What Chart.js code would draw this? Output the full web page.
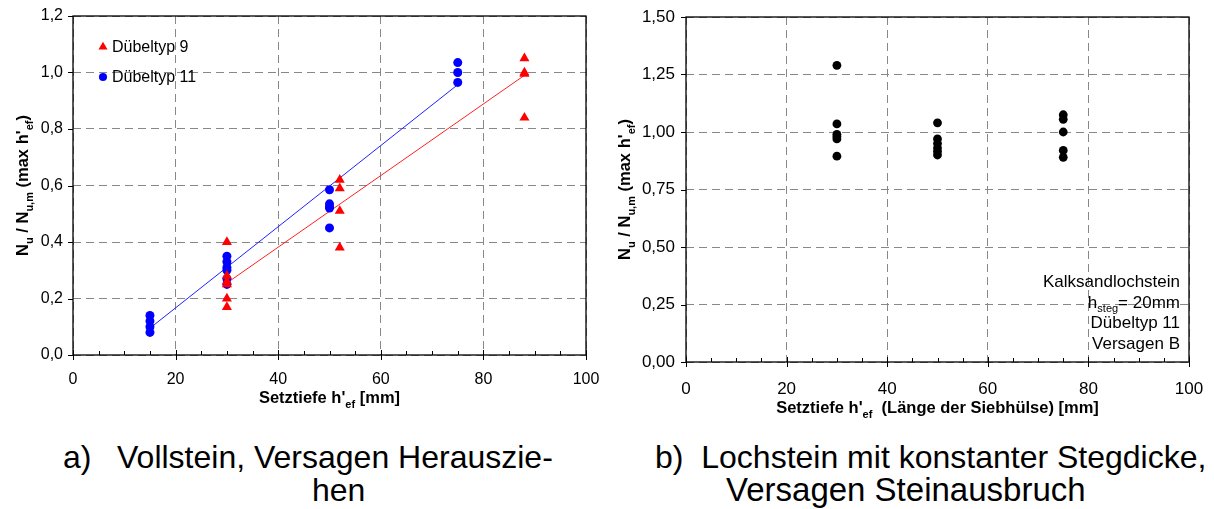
<!DOCTYPE html>
<html><head><meta charset="utf-8">
<script src="https://cdn.jsdelivr.net/npm/chart.js@4/dist/chart.umd.min.js"></script>
<style>
html,body{margin:0;padding:0;background:#fff;}
#wrap{position:relative;width:1214px;height:509px;overflow:hidden;font-family:"Liberation Sans",Arial,sans-serif;}
#c1{position:absolute;left:0;top:0;width:600px;height:420px;}
#c2{position:absolute;left:600px;top:0;width:614px;height:430px;}
.cap{position:absolute;font-size:32px;line-height:32px;color:#000;white-space:pre;}
</style></head><body>
<div id="wrap">
<canvas id="c1" width="600" height="420"></canvas>
<canvas id="c2" width="614" height="430"></canvas>
<div class="cap" style="left:63px;top:441px">a)</div>
<div class="cap" style="left:117px;top:441px">Vollstein, Versagen Herauszie-</div>
<div class="cap" style="left:312px;top:474px">hen</div>
<div class="cap" style="left:655px;top:441px">b)  Lochstein mit konstanter Stegdicke,</div>
<div class="cap" style="left:726px;top:474px;font-size:33px">Versagen Steinausbruch</div>
</div>
<script>
// ---------- data ----------
const xTicks = [0, 20, 40, 60, 80, 100];
const xTickLabels = ['0', '20', '40', '60', '80', '100'];

// chart a)
const yTicksA = [0, 0.2, 0.4, 0.6, 0.8, 1.0, 1.2];
const yTickLabelsA = ['0,0', '0,2', '0,4', '0,6', '0,8', '1,0', '1,2'];
const typ9X = [30, 30, 30, 30, 30, 30, 52, 52, 52, 52, 88, 88, 88, 88];
const typ9Y = [0.40, 0.28, 0.26, 0.25, 0.20, 0.17, 0.62, 0.59, 0.51, 0.38, 1.05, 1.00, 0.995, 0.84];
const typ11X = [15, 15, 15, 15, 30, 30, 30, 30, 30, 30, 50, 50, 50, 50, 50, 75, 75, 75];
const typ11Y = [0.14, 0.12, 0.10, 0.08, 0.35, 0.33, 0.31, 0.30, 0.27, 0.25, 0.585, 0.535, 0.525, 0.52, 0.45, 1.035, 1.00, 0.965];
const fit9X = [30, 88];
const fit9Y = [0.255, 0.99];
const fit11X = [15, 75];
const fit11Y = [0.095, 0.957];
const legendLabelsA = ['Dübeltyp 9', 'Dübeltyp 11'];

// chart b)
const yTicksB = [0, 0.25, 0.5, 0.75, 1.0, 1.25, 1.5];
const yTickLabelsB = ['0,00', '0,25', '0,50', '0,75', '1,00', '1,25', '1,50'];
const lochX = [30, 30, 30, 30, 30, 30, 50, 50, 50, 50, 50, 50, 75, 75, 75, 75, 75];
const lochY = [1.29, 1.035, 0.99, 0.98, 0.97, 0.895, 1.04, 0.97, 0.95, 0.93, 0.915, 0.90, 1.075, 1.055, 1.00, 0.92, 0.89];
const noteB = [[['Kalksandlochstein', 0]], [['h', 0], ['steg', 1], ['= 20mm', 0]], [['Dübeltyp 11', 0]], [['Versagen B', 0]]];

// ---------- helpers ----------
const FAM = '"Liberation Sans", Arial, sans-serif';
const pts = (xs, ys) => xs.map((x, i) => ({ x: x, y: ys[i] }));

function rich(ctx, parts, x, y, size, bold, align) {
  const f = s => (bold ? 'bold ' : '') + s + 'px ' + FAM;
  const subSize = Math.round(size * 0.66);
  let total = 0;
  const ws = parts.map(p => { ctx.font = p[1] ? f(subSize) : f(size); const w = ctx.measureText(p[0]).width; total += w; return w; });
  let cx = align === 'center' ? x - total / 2 : align === 'right' ? x - total : x;
  ctx.textAlign = 'left';
  ctx.textBaseline = 'alphabetic';
  parts.forEach((p, i) => {
    ctx.font = p[1] ? f(subSize) : f(size);
    ctx.fillText(p[0], cx, y + (p[1] ? size * 0.28 : 0));
    cx += ws[i];
  });
}

function decoPlugin(cfg) {
  return {
    id: 'deco',
    afterDraw(chart) {
      const ctx = chart.ctx, a = chart.chartArea;
      const xs = chart.scales.x, ys = chart.scales.y;
      ctx.save();
      ctx.strokeStyle = '#000';
      ctx.lineWidth = 1.3;
      ctx.setLineDash([]);
      ctx.strokeRect(a.left, a.top, a.right - a.left, a.bottom - a.top);
      ctx.lineWidth = 1;
      ctx.beginPath();
      for (let v = xs.min; v <= xs.max + 1e-9; v += 5) {
        const px = Math.round(xs.getPixelForValue(v)) + 0.5;
        if (v % 20 === 0) { ctx.moveTo(px, a.bottom - 5); ctx.lineTo(px, a.bottom + 5); }
        else { ctx.moveTo(px, a.bottom - 4); ctx.lineTo(px, a.bottom); }
      }
      cfg.yTicks.forEach(v => {
        const py = Math.round(ys.getPixelForValue(v)) + 0.5;
        ctx.moveTo(a.left - 5, py); ctx.lineTo(a.left, py);
      });
      ctx.stroke();
      ctx.fillStyle = '#000';
      // x title
      rich(ctx, cfg.xTitle, (a.left + a.right) / 2, a.bottom + cfg.xTitleOff, cfg.titleSize, true, 'center');
      // y title
      ctx.save();
      ctx.translate(cfg.yTitleX, (a.top + a.bottom) / 2);
      ctx.rotate(-Math.PI / 2);
      rich(ctx, cfg.yTitle, 0, 0, cfg.titleSize, true, 'center');
      ctx.restore();
      if (cfg.legend) {
        cfg.legend.forEach((lg, i) => {
          const ds = chart.data.datasets[lg.ds];
          const cx = a.left + 30, cy = a.top + 31 + i * 30;
          ctx.fillStyle = ds.pointBackgroundColor;
          Chart.helpers.drawPoint(ctx, { pointStyle: ds.pointStyle, radius: ds.pointRadius * 0.9, rotation: 0, borderWidth: 0 }, cx, cy);
          ctx.fillStyle = '#000';
          ctx.font = cfg.legendSize + 'px ' + FAM;
          ctx.textAlign = 'left';
          ctx.textBaseline = 'middle';
          ctx.fillText(lg.text, cx + 9, cy + 1);
        });
      }
      if (cfg.note) {
        cfg.note.forEach((line, i) => {
          rich(ctx, line, a.right - 9, a.bottom - 75 + i * 20.7, cfg.noteSize, false, 'right');
        });
      }
      ctx.restore();
    }
  };
}

function scalesFor(yMin, yMax, yTicks, yLabels, yAxisWidth, xAxisHeight, fontSize, yPad, xPad) {
  return {
    x: {
      type: 'linear', min: 0, max: 100,
      afterBuildTicks: s => { s.ticks = xTicks.map(v => ({ value: v })); },
      afterFit: s => { s.height = xAxisHeight; s.paddingLeft = 0; s.paddingRight = 0; },
      ticks: { callback: (v, i) => xTickLabels[i], color: '#000', font: { family: FAM, size: fontSize }, padding: xPad, maxRotation: 0 },
      grid: { color: '#888', lineWidth: 1, drawTicks: false },
      border: { display: false, dash: [8, 5] }
    },
    y: {
      type: 'linear', min: yMin, max: yMax,
      afterBuildTicks: s => { s.ticks = yTicks.map(v => ({ value: v })); },
      afterFit: s => { s.width = yAxisWidth; s.paddingTop = 0; s.paddingBottom = 0; },
      ticks: { callback: (v, i) => yLabels[i], color: '#000', font: { family: FAM, size: fontSize }, padding: yPad },
      grid: { color: '#888', lineWidth: 1, drawTicks: false },
      border: { display: false, dash: [8, 5] }
    }
  };
}

const baseOpts = { responsive: false, animation: false, events: [], plugins: { legend: { display: false }, tooltip: { enabled: false } } };

// ---------- chart a) ----------
new Chart(document.getElementById('c1'), {
  type: 'scatter',
  data: {
    datasets: [
      { label: legendLabelsA[0], data: pts(typ9X, typ9Y), pointStyle: 'triangle', pointRadius: 5.8, pointBackgroundColor: '#ff0000', pointBorderWidth: 0, borderColor: '#ff0000', showLine: false, order: 1 },
      { label: legendLabelsA[1], data: pts(typ11X, typ11Y), pointStyle: 'circle', pointRadius: 4.5, pointBackgroundColor: '#0000ff', pointBorderWidth: 0, borderColor: '#0000ff', showLine: false, order: 2 },
      { label: 'fit9', data: pts(fit9X, fit9Y), showLine: true, pointRadius: 0, borderColor: '#ff2020', borderWidth: 1, order: 3 },
      { label: 'fit11', data: pts(fit11X, fit11Y), showLine: true, pointRadius: 0, borderColor: '#2020ff', borderWidth: 1, order: 4 }
    ]
  },
  options: Object.assign({}, baseOpts, {
    layout: { padding: { top: 16, right: 14, left: 0, bottom: 0 } },
    scales: scalesFor(0, 1.2, yTicksA, yTickLabelsA, 73, 65, 16, 10, 15)
  }),
  plugins: [decoPlugin({
    yTicks: yTicksA,
    xTitle: [['Setztiefe h\'', 0], ['ef', 1], [' [mm]', 0]],
    yTitle: [['N', 0], ['u', 1], [' / N', 0], ['u,m', 1], [' (max h\'', 0], ['ef', 1], [')', 0]],
    xTitleOff: 48, yTitleX: 28, titleSize: 16.5,
    legend: [{ ds: 0, text: legendLabelsA[0] }, { ds: 1, text: legendLabelsA[1] }], legendSize: 16
  })]
});

// ---------- chart b) ----------
new Chart(document.getElementById('c2'), {
  type: 'scatter',
  data: {
    datasets: [
      { label: 'Dübeltyp 11', data: pts(lochX, lochY), pointStyle: 'circle', pointRadius: 4.4, pointBackgroundColor: '#000', pointBorderWidth: 0, showLine: false }
    ]
  },
  options: Object.assign({}, baseOpts, {
    layout: { padding: { top: 17, right: 25, left: 0, bottom: 0 } },
    scales: scalesFor(0, 1.5, yTicksB, yTickLabelsB, 86, 68, 17, 11, 17)
  }),
  plugins: [decoPlugin({
    yTicks: yTicksB,
    xTitle: [['Setztiefe h\'', 0], ['ef', 1], ['  (Länge der Siebhülse) [mm]', 0]],
    yTitle: [['N', 0], ['u', 1], [' / N', 0], ['u,m', 1], [' (max h\'', 0], ['ef', 1], [')', 0]],
    xTitleOff: 51, yTitleX: 30, titleSize: 16.5,
    note: noteB, noteSize: 17
  })]
});
</script>
</body></html>
